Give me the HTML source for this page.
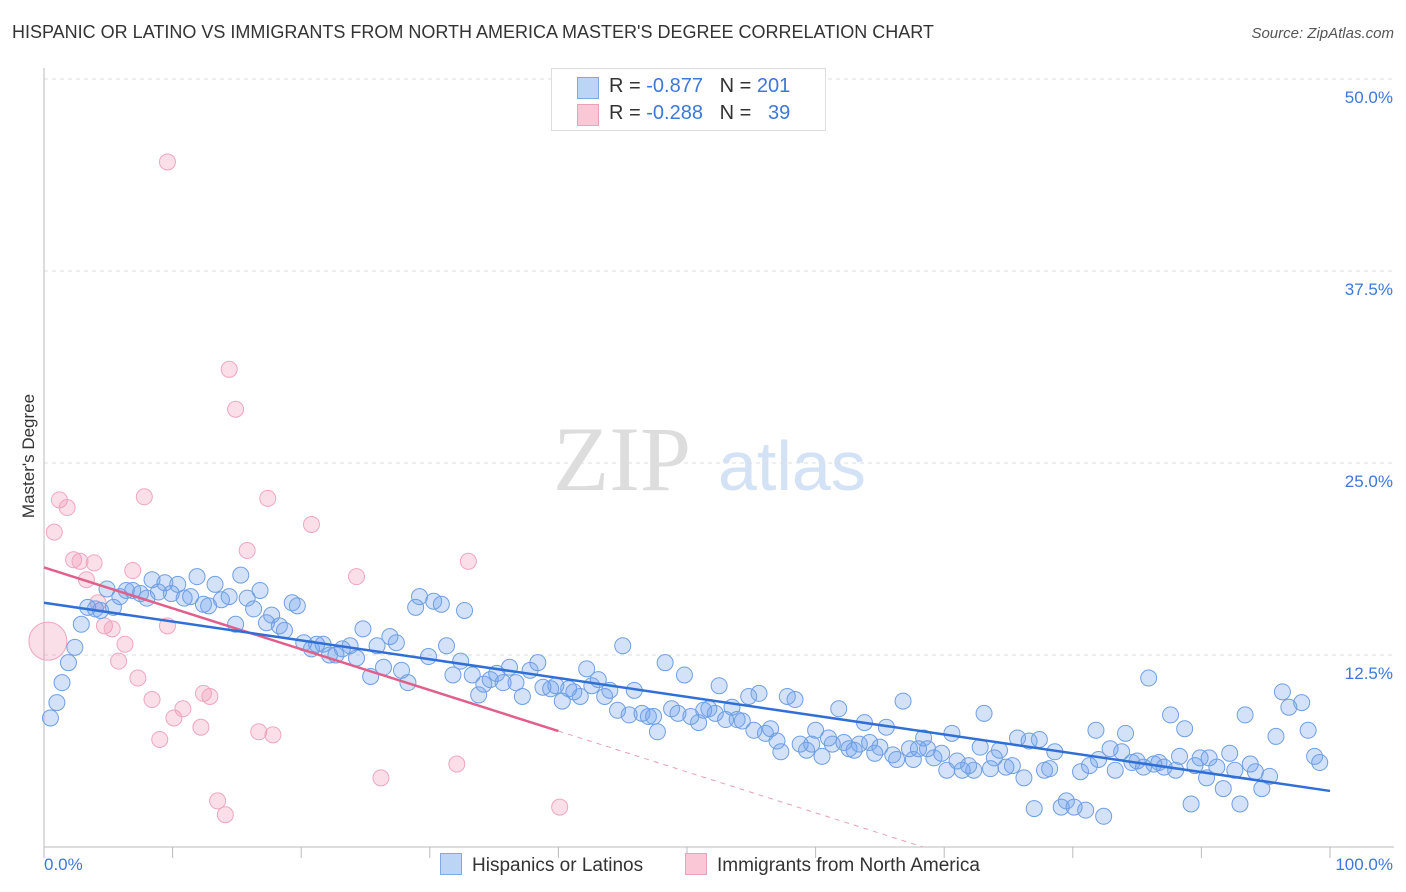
<!DOCTYPE html>
<html><head><meta charset="utf-8"><style>
body{margin:0;background:#fff;font-family:"Liberation Sans",sans-serif;}
#wrap{position:relative;width:1406px;height:892px;overflow:hidden;}
.t{position:absolute;white-space:nowrap;}
</style></head><body>
<div id="wrap">
<div class="t" style="left:12px;top:22px;font-size:18px;color:#333;">HISPANIC OR LATINO VS IMMIGRANTS FROM NORTH AMERICA MASTER'S DEGREE CORRELATION CHART</div>
<div class="t" style="right:12px;top:25px;font-size:15px;color:#555;font-style:italic;">Source: ZipAtlas.com</div>
<svg id="svg" width="1406" height="892" style="position:absolute;left:0;top:0"></svg>
</div>
<script>
const yTicks=[12.5,25,37.5,50];
const yTickLabels=["12.5%","25.0%","37.5%","50.0%"];
const xLabels=["0.0%","100.0%"];
const blueX=[0.5,1,1.4,1.9,2.4,2.9,3.4,4,4.4,4.9,5.4,5.9,6.4,6.9,7.5,8,8.4,8.9,9.4,9.9,10.4,10.9,11.4,11.9,12.4,12.8,13.3,13.8,14.4,14.9,15.3,15.8,16.3,16.8,17.3,17.7,18.3,18.7,19.3,19.7,20.2,20.8,21.2,21.7,22.2,22.7,23.2,23.8,24.3,24.8,25.4,25.9,26.4,26.9,27.4,27.8,28.3,28.9,29.2,29.9,30.3,30.9,31.3,31.8,32.4,32.7,33.3,33.8,34.2,34.7,35.2,35.7,36.2,36.7,37.2,37.8,38.4,38.8,39.4,39.8,40.3,40.8,41.2,41.7,42.2,42.6,43.1,43.6,44,44.6,45,45.5,45.9,46.5,47,47.4,47.7,48.3,48.8,49.3,49.8,50.3,50.9,51.3,51.7,52.2,52.5,53,53.5,53.9,54.3,54.8,55.2,55.6,56.1,56.5,57,57.3,57.8,58.4,58.8,59.3,59.7,60,60.5,61,61.3,61.8,62.2,62.6,63,63.4,63.8,64.2,64.6,65,65.5,66,66.3,66.8,67.3,67.6,68,68.4,68.7,69.2,69.8,70.2,70.6,71,71.4,71.9,72.3,72.8,73.1,73.6,73.9,74.3,74.8,75.3,75.7,76.2,76.6,77,77.4,77.8,78.2,78.6,79.1,79.5,80.1,80.6,81,81.3,81.8,82,82.4,82.9,83.3,83.8,84.1,84.6,85,85.5,85.9,86.3,86.7,87.1,87.6,88,88.3,88.7,89.2,89.5,89.9,90.4,90.6,91.2,91.7,92.2,92.6,93,93.4,93.8,94.2,94.7,95.3,95.8,96.3,96.8,97.8,98.3,98.8,99.2,99.7,99.9];
const blueY=[8.4,9.4,10.7,12,13,14.5,15.6,15.5,15.4,16.8,15.6,16.3,16.7,16.7,16.5,16.2,17.4,16.6,17.2,16.5,17.1,16.2,16.3,17.6,15.8,15.7,17.1,16.1,16.3,14.5,17.7,16.2,15.5,16.7,14.6,15.1,14.4,14.1,15.9,15.7,13.3,12.9,13.2,13.2,12.5,12.5,12.9,13.1,12.3,14.2,11.1,13.1,11.7,13.7,13.3,11.5,10.7,15.6,16.3,12.4,16,15.8,13.1,11.2,12.1,15.4,11.2,9.9,10.6,10.9,11.3,10.7,11.7,10.7,9.8,11.5,12,10.4,10.3,10.5,9.5,10.3,10.1,9.8,11.6,10.5,10.9,9.8,10.2,8.9,13.1,8.6,10.2,8.7,8.5,8.5,7.5,12,9,8.7,11.2,8.5,8.1,8.9,9,8.7,10.5,8.3,9.1,8.3,8.2,9.8,7.6,10,7.4,7.7,6.9,6.2,9.8,9.6,6.7,6.3,6.7,7.6,5.9,7.1,6.7,9,6.8,6.4,6.3,6.7,8.1,6.8,6.1,6.5,7.8,6,5.7,9.5,6.4,5.7,6.4,7.1,6.4,5.8,6.1,5,7.4,5.6,5,5.3,5,6.5,8.7,5.1,5.8,6.3,5.2,5.3,7.1,4.5,6.9,2.5,7,5,5.1,6.2,2.6,3,2.6,4.9,2.4,5.3,7.6,5.7,2,6.4,5,6.2,7.4,5.5,5.6,5.2,11,5.4,5.5,5.2,8.6,5,5.9,7.7,2.8,5.3,5.8,4.5,5.8,5.2,3.8,6.1,5,2.8,8.6,5.4,4.9,3.8,4.6,7.2,10.1,9.1,9.4,7.6,5.9,5.5];
const pinkX=[0.8,1.2,1.8,2.3,2.8,3.3,3.9,4.2,4.7,5.3,5.8,6.3,6.9,7.3,7.8,8.4,9,9.6,10.1,10.8,12.2,12.4,12.9,13.5,14.1,14.4,14.9,15.8,16.7,17.4,17.8,20.8,24.3,26.2,32.1,33,40.1,9.6,0.3];
const pinkY=[20.5,22.6,22.1,18.7,18.6,17.4,18.5,15.9,14.4,14.2,12.1,13.2,18,11,22.8,9.6,7,14.4,8.4,9,7.8,10,9.8,3,2.1,31.1,28.5,19.3,7.5,22.7,7.3,21,17.6,4.5,5.4,18.6,2.6,44.6,13.4];
const blueLine=[15.9,3.65];
const pinkLine=[18.2,7.55];
const X0=44,X1=1330,Y0=847,PPY=15.36;
const sx=v=>X0+(X1-X0)*v/100, sy=v=>Y0-v*PPY;
const svg=document.getElementById('svg');const NS='http://www.w3.org/2000/svg';
function mk(t,a){const e=document.createElementNS(NS,t);for(const k in a)e.setAttribute(k,a[k]);svg.appendChild(e);return e;}
let w=mk('text',{x:553,y:490,'font-size':92,fill:'#ddd','font-family':'Liberation Serif, serif'});w.textContent='ZIP';


w=mk('text',{x:718,y:490,'font-size':70,fill:'#d3e2f5','font-family':'Liberation Sans, sans-serif'});w.textContent='atlas';


yTicks.forEach((v,i)=>{
 const g=mk('line',{x1:X0,x2:1394,y1:sy(v),y2:sy(v),stroke:'#ddd','stroke-dasharray':'4,4'});
 
 
 const t=mk('text',{x:1393,y:sy(v)+24,'text-anchor':'end','font-size':17,fill:'#3d78d8'});t.textContent=yTickLabels[i];
 
 
});
let a=mk('line',{x1:X0,x2:X0,y1:68,y2:Y0,stroke:'#bbb'});


a=mk('line',{x1:X0,x2:1394,y1:Y0,y2:Y0,stroke:'#bbb'});


for(let i=0;i<=10;i++){const k=mk('line',{x1:sx(i*10),x2:sx(i*10),y1:Y0,y2:Y0+11,stroke:'#bbb'});
 
 }
let t=mk('text',{x:44,y:870,'font-size':17,fill:'#3d78d8'});t.textContent=xLabels[0];


t=mk('text',{x:1393,y:870,'font-size':17,fill:'#3d78d8','text-anchor':'end'});t.textContent=xLabels[1];


t=mk('text',{x:34,y:456,'font-size':17,fill:'#333','text-anchor':'middle',transform:'rotate(-90 34 456)'});t.textContent="Master's Degree";


pinkX.forEach((x,i)=>{const r=i==pinkX.length-1?19:8;const c=mk('circle',{cx:sx(x),cy:sy(pinkY[i]),r:r,fill:'rgba(240,150,180,0.3)',stroke:'#f0a6c0','stroke-width':1});
 
 });
blueX.forEach((x,i)=>{if(blueY[i]===undefined)return;const c=mk('circle',{cx:sx(x),cy:sy(blueY[i]),r:8,fill:'rgba(110,160,235,0.3)',stroke:'#6f9fe3','stroke-width':1});
 
 });
const ps=(pinkLine[1]-pinkLine[0])/40;const pz=-pinkLine[0]/ps;
let l=mk('line',{x1:sx(40),y1:sy(pinkLine[1]),x2:sx(pz),y2:sy(0),stroke:'#e8a0b8','stroke-dasharray':'5,5','stroke-width':1});


l=mk('line',{x1:sx(0),y1:sy(pinkLine[0]),x2:sx(40),y2:sy(pinkLine[1]),stroke:'#e0608a','stroke-width':2.5});


l=mk('line',{x1:sx(0),y1:sy(blueLine[0]),x2:sx(100),y2:sy(blueLine[1]),stroke:'#2f6fd6','stroke-width':2.5});


</script>
<div class="t" style="left:551px;top:68px;width:273px;height:61px;border:1px solid #ddd;background:#fff;font-size:20px;">
 <div style="position:absolute;left:25px;top:8px;width:20px;height:20px;background:#bcd5f7;border:1px solid #7fa8e6;"></div>
 <div style="position:absolute;left:57px;top:6px;color:#333;">R = <span style="color:#3d78d8">-0.877</span>&nbsp;&nbsp;&nbsp;N = <span style="color:#3d78d8">201</span></div>
 <div style="position:absolute;left:25px;top:35px;width:20px;height:20px;background:#f9c7d6;border:1px solid #eda0b9;"></div>
 <div style="position:absolute;left:57px;top:33px;color:#333;">R = <span style="color:#3d78d8">-0.288</span>&nbsp;&nbsp;&nbsp;N = &nbsp;&nbsp;<span style="color:#3d78d8">39</span></div>
</div>
<div class="t" style="left:440px;top:853px;font-size:19px;color:#333;"><span style="display:inline-block;width:20px;height:20px;background:#bcd5f7;border:1px solid #7fa8e6;vertical-align:-4px;margin-right:10px;"></span>Hispanics or Latinos</div>
<div class="t" style="left:685px;top:853px;font-size:19px;color:#333;"><span style="display:inline-block;width:20px;height:20px;background:#f9c7d6;border:1px solid #eda0b9;vertical-align:-4px;margin-right:10px;"></span>Immigrants from North America</div>
</body></html>
